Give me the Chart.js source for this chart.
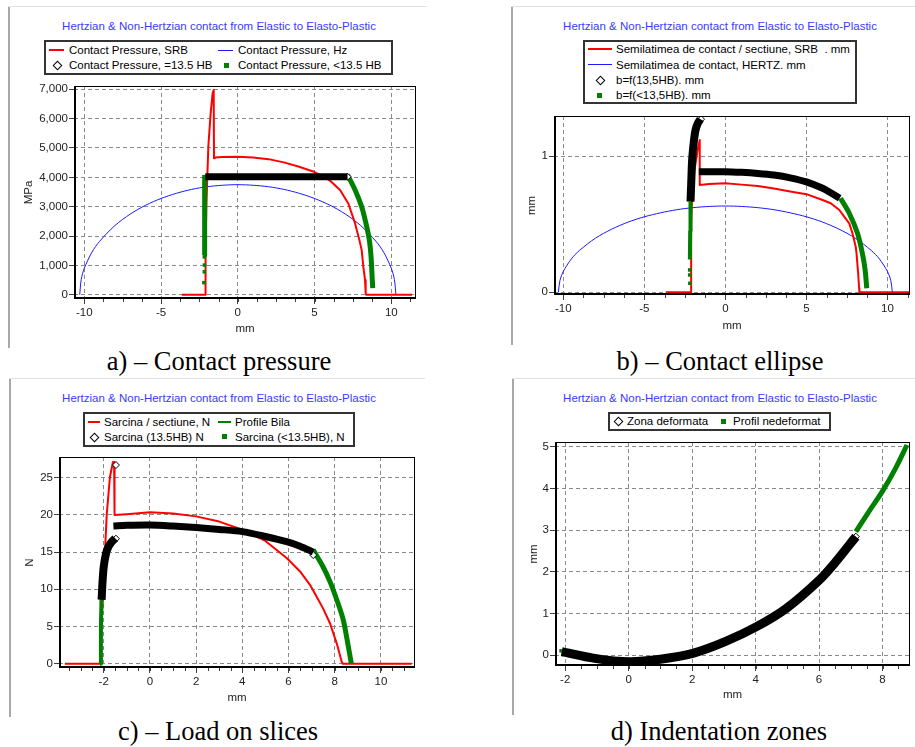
<!DOCTYPE html>
<html><head><meta charset="utf-8">
<script src="https://cdn.jsdelivr.net/npm/chart.js@4.4.1/dist/chart.umd.min.js"></script>
<style>
html,body{margin:0;padding:0;background:#fff}
#root{position:relative;width:915px;height:747px;overflow:hidden;font-family:"Liberation Sans",Arial,sans-serif}
.ttl{position:absolute;color:#3a3aff;font-size:11.5px;line-height:14px;white-space:nowrap;transform:translateX(-50%)}
.lg{position:absolute;border:2px solid #333;box-sizing:border-box}
.lt{position:absolute;font-size:11.5px;line-height:14px;white-space:pre;color:#000}
.cap{position:absolute;font-family:"Liberation Serif","Times New Roman",serif;font-size:26.5px;line-height:26px;white-space:nowrap;transform:translateX(-50%);color:#000}
.vb{position:absolute;width:2px;background:#a8a8a8}
.hb{position:absolute;height:1px;background:#e2e2e2}
canvas{position:absolute}
</style></head><body><div id="root"></div>
<script>
// ================= DATA =================
const TITLE = 'Hertzian & Non-Hertzian contact from Elastic to Elasto-Plastic';

// ---- a) Contact pressure (MPa vs mm) ----
const aLabels = ['Contact Pressure, SRB', 'Contact Pressure, Hz', 'Contact Pressure, =13.5 HB', 'Contact Pressure, <13.5 HB'];
const aXTicks = [-10, -5, 0, 5, 10];
const aYTicks = [0, 1000, 2000, 3000, 4000, 5000, 6000, 7000];
const aSrbX = [-3.65, -2.12, -2.1, -2.05, -1.92, -1.77, -1.64, -1.57, -1.55, -1.5, -1.0, 0, 1, 2, 3, 4, 5, 5.5, 6.0, 6.66, 7.2, 7.64, 7.92, 8.07, 8.18, 8.29, 8.33, 8.36, 11.35];
const aSrbY = [0, 0, 1500, 3000, 5040, 6180, 6860, 6980, 4650, 4680, 4690, 4700, 4680, 4620, 4510, 4360, 4180, 4040, 3890, 3570, 3110, 2430, 1860, 1520, 950, 500, 50, 0, 0];
const aHzX = [-10.3, -10.2, -10, -9.5, -9, -8, -7, -6, -5, -4, -3, -2, -1, 0, 1, 2, 3, 4, 5, 6, 7, 8, 9, 9.5, 10, 10.2, 10.3];
const aHzY = [0, 520, 900, 1450, 1820, 2360, 2750, 3050, 3280, 3455, 3590, 3680, 3730, 3750, 3730, 3680, 3590, 3455, 3280, 3050, 2750, 2360, 1820, 1450, 900, 520, 0];
const aHbX = [-2.12, 0, 3, 7.15];
const aHbY = [4020, 4020, 4020, 4020];
const aLowLeftX = [-2.19, -2.17, -2.15];
const aLowLeftY = [1350, 3000, 4080];
const aLowRightX = [7.15, 7.64, 8.07, 8.35, 8.57, 8.68, 8.74, 8.79];
const aLowRightY = [4080, 3570, 3000, 2430, 1860, 1300, 730, 220];
const aLowDotsX = [-2.18, -2.17, -2.18, -2.21];
const aLowDotsY = [1290, 1010, 780, 410];

// ---- b) Contact ellipse (mm vs mm) ----
const bLabels = ['Semilatimea de contact / sectiune, SRB  . mm', 'Semilatimea de contact, HERTZ. mm', 'b=f(13,5HB). mm', 'b=f(<13,5HB). mm'];
const bXTicks = [-10, -5, 0, 5, 10];
const bYTicks = [0, 1];
const bSrbX = [-3.68, -2.11, -2.11, -2.05, -1.9, -1.7, -1.58, -1.58, -1.0, 0, 1, 2, 3, 4, 5, 6, 6.5, 7.03, 7.33, 7.64, 7.84, 8.04, 8.09, 8.19, 8.25, 8.27, 11.35];
const bSrbY = [0, 0, 0.5, 0.7, 0.9, 1.05, 1.117, 0.787, 0.795, 0.80, 0.79, 0.78, 0.762, 0.74, 0.72, 0.677, 0.653, 0.604, 0.555, 0.506, 0.433, 0.335, 0.286, 0.139, 0.03, 0, 0];
const bHzX = [-10.3, -10.2, -10, -9.5, -9, -8, -7, -6, -5, -4, -3, -2, -1, 0, 1, 2, 3, 4, 5, 6, 7, 8, 9, 9.5, 10, 10.2, 10.3];
const bHzY = [0, 0.088, 0.152, 0.245, 0.307, 0.398, 0.464, 0.515, 0.554, 0.583, 0.606, 0.621, 0.630, 0.633, 0.630, 0.621, 0.606, 0.583, 0.554, 0.515, 0.464, 0.398, 0.307, 0.245, 0.152, 0.088, 0];
const bHbUpX = [-2.15, -2.1, -2.05, -1.95, -1.84, -1.7, -1.54];
const bHbUpY = [0.665, 0.82, 0.97, 1.1, 1.19, 1.24, 1.27];
const bHbTopX = [-1.64, 0, 1, 2, 3, 4, 5, 6, 6.5, 7.05];
const bHbTopY = [0.885, 0.885, 0.88, 0.872, 0.86, 0.84, 0.81, 0.763, 0.73, 0.69];
const bHbMarkX = [-1.5];
const bHbMarkY = [1.27];
const bLowLeftX = [-2.19, -2.17, -2.15];
const bLowLeftY = [0.24, 0.45, 0.665];
const bLowRightX = [7.1, 7.64, 8.15, 8.45, 8.62, 8.72];
const bLowRightY = [0.69, 0.58, 0.433, 0.286, 0.164, 0.03];
const bLowDotsX = [-2.2, -2.2, -2.19];
const bLowDotsY = [0.164, 0.127, 0.066];

// ---- c) Load on slices (N vs mm) ----
const cLabels = ['Sarcina / sectiune, N', 'Profile Bila', 'Sarcina (13.5HB) N', 'Sarcina (<13.5HB), N'];
const cXTicks = [-2, 0, 2, 4, 6, 8, 10];
const cYTicks = [0, 5, 10, 15, 20, 25];
const cSrbX = [-3.68, -2.16, -2.1, -2.02, -1.87, -1.73, -1.6, -1.55, -1.53, -1.0, 0, 1, 2, 3, 4, 5, 5.92, 6.5, 6.93, 7.22, 7.5, 7.8, 8.09, 8.3, 8.35, 11.33];
const cSrbY = [0, 0, 5, 10, 20, 25.1, 27.1, 27.1, 20, 20.1, 20.35, 20.2, 19.8, 19.1, 18.0, 16.5, 14.2, 12.4, 10.6, 9.0, 7.4, 5.4, 2.7, 0.3, 0, 0];
const cProfileX = [];
const cProfileY = [];
const cHbUpX = [-2.09, -2.05, -2.0, -1.9, -1.8, -1.65, -1.5];
const cHbUpY = [8.6, 11, 13, 14.8, 15.7, 16.4, 16.85];
const cHbTopX = [-1.58, -1, 0, 1, 2, 3, 4, 5, 5.92, 6.5, 7.07];
const cHbTopY = [18.5, 18.6, 18.64, 18.5, 18.3, 18.05, 17.75, 17.1, 16.4, 15.8, 15.0];
const cHbMarkX = [-1.47, -1.47, 7.07];
const cHbMarkY = [26.7, 16.8, 14.6];
const cLowLeftX = [-2.16, -2.12, -2.09];
const cLowLeftY = [0, 5, 9.5];
const cLowRightX = [7.07, 7.5, 7.8, 8.1, 8.37, 8.59, 8.72];
const cLowRightY = [15.3, 13.0, 11.0, 8.5, 5.9, 2.3, 0];

// ---- d) Indentation zones (mm vs mm) ----
const dLabels = ['Zona deformata', 'Profil nedeformat'];
const dXTicks = [-2, 0, 2, 4, 6, 8];
const dYTicks = [0, 1, 2, 3, 4, 5];
const dDefX = [-2.11, -1.07, 0.02, 1.0, 2.02, 3.04, 4.03, 4.97, 6.01, 6.53, 7.16];
const dDefY = [0.08, -0.08, -0.16, -0.1, 0.04, 0.32, 0.68, 1.12, 1.8, 2.24, 2.84];
const dDefMarkX = [7.16];
const dDefMarkY = [2.84];
const dProfX = [7.16, 7.57, 7.99, 8.41, 8.77];
const dProfY = [2.96, 3.44, 3.92, 4.48, 5.04];
const dProfDotX = [-2.13];
const dProfDotY = [0.1];

// ================= HELPERS =================
const FONT = '"Liberation Sans", Arial, sans-serif';
const RED = '#ff0000', BLUE = '#1a1aff', GREEN = '#008000', BLACK = '#000000';
function pts(xs, ys) { return xs.map((x, i) => ({ x: x, y: ys[i] })); }
function lineDs(label, xs, ys, color, width, order, tension) {
  return { label, data: pts(xs, ys), showLine: true, borderColor: color, backgroundColor: color,
    borderWidth: width, pointRadius: 0, tension: tension || 0, order, borderJoinStyle: 'round', borderCapStyle: 'butt' };
}
function dotDs(label, xs, ys, color, order) {
  return { label, data: pts(xs, ys), showLine: false, pointStyle: 'rect', pointRadius: 2.5,
    backgroundColor: color, borderColor: color, borderWidth: 0, order };
}
function diamondDs(label, xs, ys, order) {
  return { label, data: pts(xs, ys), showLine: false, pointStyle: 'rectRot', pointRadius: 3.5,
    backgroundColor: '#ffffff', borderColor: '#000000', borderWidth: 1, order };
}

const framePlugin = {
  id: 'frame',
  afterDraw(chart) {
    const { ctx, chartArea: a } = chart; const xs = chart.scales.x;
    ctx.save();
    ctx.strokeStyle = '#404040'; ctx.lineWidth = 1;
    const tv = xs.ticks.map(t => t.value);
    const st = (tv[1] - tv[0]) / 4;
    ctx.beginPath();
    for (let k = Math.ceil(xs.min / st); k * st <= xs.max; k++) {
      const px = Math.round(xs.getPixelForValue(k * st)) + 0.5;
      ctx.moveTo(px, a.bottom); ctx.lineTo(px, a.bottom + 3);
    }
    ctx.stroke();
    ctx.strokeStyle = '#000';
    ctx.lineWidth = 1;
    ctx.strokeRect(a.left + 0.5, a.top + 0.5, a.right - a.left - 1, a.bottom - a.top - 1);
    ctx.lineWidth = 2;
    ctx.beginPath();
    ctx.moveTo(a.left + 1, a.top); ctx.lineTo(a.left + 1, a.bottom);
    ctx.moveTo(a.left, a.bottom - 1); ctx.lineTo(a.right, a.bottom - 1);
    ctx.stroke();
    ctx.restore();
  }
};

const root = document.getElementById('root');
function el(cls, css, text) {
  const d = document.createElement('div'); d.className = cls;
  Object.assign(d.style, css); if (text !== undefined) d.textContent = text;
  root.appendChild(d); return d;
}
function legendSymbol(s, y) {
  if (s.sym === 'line') {
    el('', { position: 'absolute', left: s.x + 'px', top: (y - s.lw / 2) + 'px', width: s.w + 'px', height: s.lw + 'px', background: s.color });
  } else if (s.sym === 'diamond') {
    el('', { position: 'absolute', left: (s.x - 3) + 'px', top: (y - 3) + 'px', width: '5px', height: '5px', border: '1px solid #000', background: '#fff', transform: 'rotate(45deg)' });
  } else {
    el('', { position: 'absolute', left: (s.x - 2.5) + 'px', top: (y - 2.5) + 'px', width: '5px', height: '5px', background: s.color });
  }
}

function build(p) {
  el('vb', { left: p.vb.x + 'px', top: p.vb.y1 + 'px', height: (p.vb.y2 - p.vb.y1) + 'px' });
  el('hb', { left: p.vb.x + 'px', top: p.vb.y1 + 'px', width: (p.hbEnd - p.vb.x) + 'px' });
  el('ttl', { left: p.title.x + 'px', top: (p.title.y - 7) + 'px' }, TITLE);
  el('lg', { left: p.legend.l + 'px', top: p.legend.t + 'px', width: p.legend.w + 'px', height: p.legend.h + 'px' });
  p.legend.items.forEach(it => {
    const y = p.legend.rows[it.row];
    legendSymbol(it, y);
    el('lt', { left: it.tx + 'px', top: (y - 7) + 'px' }, it.text);
  });
  el('cap', { left: p.cap.x + 'px', top: p.cap.y + 'px' }, p.cap.text);

  const cv = document.createElement('canvas');
  cv.width = p.cv.w; cv.height = p.cv.h;
  Object.assign(cv.style, { left: p.cv.x + 'px', top: p.cv.y + 'px', width: p.cv.w + 'px', height: p.cv.h + 'px' });
  root.appendChild(cv);
  const padTop = p.plot.t - p.cv.y, padRight = p.cv.x + p.cv.w - p.plot.r;
  const yW = p.plot.l - p.cv.x, xH = p.cv.y + p.cv.h - p.plot.b;
  const tickFont = { family: FONT, size: 11.5 };
  new Chart(cv, {
    type: 'scatter',
    data: { datasets: p.datasets },
    options: {
      responsive: false, animation: false, devicePixelRatio: 1, locale: 'en-US',
      layout: { padding: { left: 0, top: padTop, right: padRight, bottom: 0 } },
      plugins: { legend: { display: false }, tooltip: { enabled: false }, title: { display: false } },
      scales: {
        x: {
          type: 'linear', min: p.x.min, max: p.x.max,
          afterBuildTicks: s => { s.ticks = p.x.ticks.map(v => ({ value: v })); },
          afterFit: s => { s.height = xH; s.paddingLeft = 0; s.paddingRight = 0; },
          ticks: { color: '#222', font: tickFont, padding: 2, maxRotation: 0, autoSkip: false },
          grid: { color: '#8a8a8a', tickColor: '#404040', tickLength: 5, lineWidth: 1 },
          border: { display: false, dash: [4, 3] },
          title: { display: true, text: p.xTitle, color: '#222', font: tickFont, padding: { top: 0, bottom: p.xTitlePad } }
        },
        y: {
          type: 'linear', min: p.y.min, max: p.y.max,
          afterBuildTicks: s => { s.ticks = p.y.ticks.map(v => ({ value: v })); },
          afterFit: s => { s.width = yW; s.paddingTop = 0; s.paddingBottom = 0; },
          ticks: { color: '#222', font: tickFont, padding: 1, autoSkip: false },
          grid: { color: '#8a8a8a', tickColor: '#404040', tickLength: 5, lineWidth: 1 },
          border: { display: false, dash: [4, 3] },
          title: { display: true, text: p.yTitle, color: '#222', font: tickFont, padding: { top: p.yTitlePad, bottom: 0 } }
        }
      }
    },
    plugins: [framePlugin]
  });
}

// ================= PANELS =================
const panels = [
  {
    vb: { x: 8, y1: 6, y2: 348 }, hbEnd: 427,
    title: { x: 219, y: 26 },
    legend: { l: 44, t: 40, w: 349, h: 35, rows: [50, 65], items: [
      { sym: 'line', color: RED, lw: 2, x: 49, w: 15, row: 0, text: aLabels[0], tx: 69 },
      { sym: 'line', color: BLUE, lw: 1, x: 218, w: 15, row: 0, text: aLabels[1], tx: 238 },
      { sym: 'diamond', x: 57, row: 1, text: aLabels[2], tx: 69 },
      { sym: 'square', color: GREEN, x: 226, row: 1, text: aLabels[3], tx: 238 } ] },
    cap: { x: 219, y: 348, text: 'a) – Contact pressure' },
    cv: { x: 14, y: 78, w: 420, h: 267 }, plot: { l: 74, t: 86, r: 416, b: 299 },
    x: { min: -10.671, max: 11.609, ticks: aXTicks }, y: { min: -146.6, max: 7113, ticks: aYTicks },
    xTitle: 'mm', yTitle: 'MPa', xTitlePad: 9, yTitlePad: 8,
    datasets: [
      lineDs(aLabels[2], aHbX, aHbY, BLACK, 7, 0, 0),
      diamondDs(aLabels[2], [aHbX[aHbX.length - 1]], [aHbY[aHbY.length - 1]], 0),
      lineDs(aLabels[3], aLowLeftX, aLowLeftY, GREEN, 5, 1, 0),
      lineDs(aLabels[3], aLowRightX, aLowRightY, GREEN, 5, 1, 0.3),
      dotDs(aLabels[3], aLowDotsX, aLowDotsY, GREEN, 1),
      lineDs(aLabels[0], aSrbX, aSrbY, RED, 2, 2, 0),
      lineDs(aLabels[1], aHzX, aHzY, BLUE, 1, 3, 0.3)
    ]
  },
  {
    vb: { x: 511, y1: 6, y2: 345 }, hbEnd: 915,
    title: { x: 720, y: 26 },
    legend: { l: 583, t: 40, w: 274, h: 64, rows: [49, 64.5, 79.5, 95], items: [
      { sym: 'line', color: RED, lw: 2, x: 588, w: 24, row: 0, text: bLabels[0], tx: 616 },
      { sym: 'line', color: BLUE, lw: 1, x: 588, w: 24, row: 1, text: bLabels[1], tx: 616 },
      { sym: 'diamond', x: 600, row: 2, text: bLabels[2], tx: 616 },
      { sym: 'square', color: GREEN, x: 599, row: 3, text: bLabels[3], tx: 616 } ] },
    cap: { x: 720, y: 348, text: 'b) – Contact ellipse' },
    cv: { x: 514, y: 78, w: 401, h: 267 }, plot: { l: 554, t: 116, r: 913, b: 295 },
    x: { min: -10.569, max: 11.388, ticks: bXTicks }, y: { min: -0.0198, max: 1.2935, ticks: bYTicks },
    xTitle: 'mm', yTitle: 'mm', xTitlePad: 12.7, yTitlePad: 11,
    datasets: [
      lineDs(bLabels[2], bHbUpX, bHbUpY, BLACK, 8, 0, 0.3),
      lineDs(bLabels[2], bHbTopX, bHbTopY, BLACK, 7, 0, 0.3),
      diamondDs(bLabels[2], bHbMarkX, bHbMarkY, 0),
      lineDs(bLabels[3], bLowLeftX, bLowLeftY, GREEN, 4, 1, 0),
      lineDs(bLabels[3], bLowRightX, bLowRightY, GREEN, 5, 1, 0.3),
      dotDs(bLabels[3], bLowDotsX, bLowDotsY, GREEN, 1),
      lineDs(bLabels[0], bSrbX, bSrbY, RED, 2, 2, 0),
      lineDs(bLabels[1], bHzX, bHzY, BLUE, 1, 3, 0.3)
    ]
  },
  {
    vb: { x: 9, y1: 378, y2: 717 }, hbEnd: 425,
    title: { x: 219, y: 397.5 },
    legend: { l: 83, t: 412, w: 272, h: 35, rows: [421.7, 436.7], items: [
      { sym: 'line', color: RED, lw: 2, x: 88, w: 12, row: 0, text: cLabels[0], tx: 104 },
      { sym: 'line', color: GREEN, lw: 2, x: 218, w: 13, row: 0, text: cLabels[1], tx: 235 },
      { sym: 'diamond', x: 94, row: 1, text: cLabels[2], tx: 104 },
      { sym: 'square', color: GREEN, x: 224, row: 1, text: cLabels[3], tx: 235 } ] },
    cap: { x: 218, y: 718, text: 'c) – Load on slices' },
    cv: { x: 14, y: 450, w: 420, h: 262 }, plot: { l: 59, t: 457, r: 415, b: 668 },
    x: { min: -3.935, max: 11.476, ticks: cXTicks }, y: { min: -0.578, max: 27.78, ticks: cYTicks },
    xTitle: 'mm', yTitle: 'N', xTitlePad: 7.7, yTitlePad: 9.4,
    datasets: [
      lineDs(cLabels[2], cHbUpX, cHbUpY, BLACK, 8, 0, 0.3),
      lineDs(cLabels[2], cHbTopX, cHbTopY, BLACK, 7, 0, 0.3),
      diamondDs(cLabels[2], cHbMarkX, cHbMarkY, 0),
      lineDs(cLabels[3], cLowLeftX, cLowLeftY, GREEN, 4, 1, 0),
      lineDs(cLabels[3], cLowRightX, cLowRightY, GREEN, 5, 1, 0.3),
      lineDs(cLabels[1], cProfileX, cProfileY, GREEN, 2, 1, 0),
      lineDs(cLabels[0], cSrbX, cSrbY, RED, 2, 2, 0)
    ]
  },
  {
    vb: { x: 512, y1: 378, y2: 715 }, hbEnd: 915,
    title: { x: 720, y: 397.5 },
    legend: { l: 608, t: 412, w: 223, h: 19, rows: [421], items: [
      { sym: 'diamond', x: 618, row: 0, text: dLabels[0], tx: 627 },
      { sym: 'square', color: GREEN, x: 723, row: 0, text: dLabels[1], tx: 733 } ] },
    cap: { x: 719, y: 718, text: 'd) Indentation zones' },
    cv: { x: 514, y: 436, w: 401, h: 276 }, plot: { l: 555, t: 442, r: 913, b: 666 },
    x: { min: -2.322, max: 8.866, ticks: dXTicks }, y: { min: -0.264, max: 5.112, ticks: dYTicks },
    xTitle: 'mm', yTitle: 'mm', xTitlePad: 10.4, yTitlePad: 12.7,
    datasets: [
      lineDs(dLabels[0], dDefX, dDefY, BLACK, 9, 0, 0.3),
      diamondDs(dLabels[0], dDefMarkX, dDefMarkY, 0),
      lineDs(dLabels[1], dProfX, dProfY, GREEN, 5, 1, 0.3),
      dotDs(dLabels[1], dProfDotX, dProfDotY, GREEN, 1)
    ]
  }
];
panels.forEach(build);
</script></body></html>
